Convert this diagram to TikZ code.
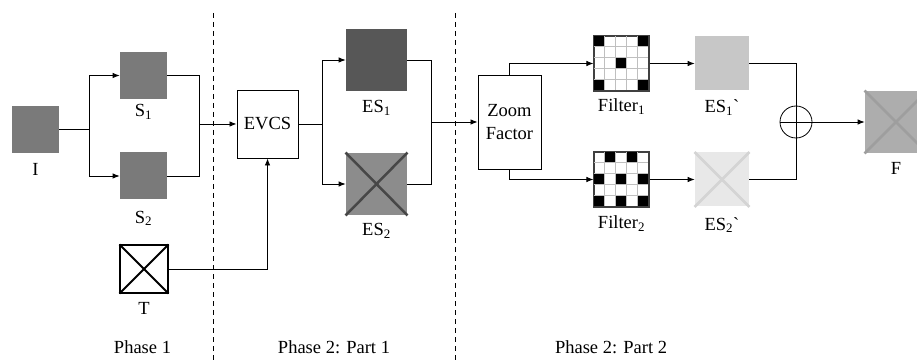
\documentclass[tikz,border=0pt]{standalone}
\usepackage{fontspec}
\setmainfont{Liberation Serif}
\usetikzlibrary{positioning, arrows.meta}

\tikzset{
  img/.style={draw=none, inner sep=0pt, minimum width=#1, minimum height=#1},
  blk/.style={draw, line width=0.9pt, inner sep=2pt, align=center},
  lbl/.style={anchor=base, inner sep=0pt},
  filt/.style={draw=black!75, line width=1.2pt, inner sep=0pt, minimum size=55pt},
}

\begin{document}
\begin{tikzpicture}[x=1pt, y=-1pt, >={Latex[length=7pt, width=5.5pt]}, line width=0.8pt,
    font=\fontsize{18.5}{23}\selectfont]
  \useasboundingbox (0,0) rectangle (917,363);

  % Phase 1
  \node[img=47pt, fill=black!52] (I) at (35.5,129.5) {};
  \node[lbl] at (35.5,176) {I};
  \node[img=47pt, fill=black!52] (S1) at (143.5,75.5) {};
  \node[lbl] at (143.5,117) {S\textsubscript{1}};
  \node[img=47pt, fill=black!52] (S2) at (143.5,176) {};
  \node[lbl] at (143.5,223) {S\textsubscript{2}};
  \node[draw, line width=1.2pt, minimum size=48pt, inner sep=0pt] (T) at (144,269) {};
  \draw[line width=2pt] (T.north west) -- (T.south east);
  \draw[line width=2pt] (T.north east) -- (T.south west);
  \node[lbl] at (144,314) {T};

  \coordinate (fork1) at (89,129.5);
  \draw (I.east) -- (fork1);
  \draw[->] (fork1) |- (S1.west);
  \draw[->] (fork1) |- (S2.west);

  % Phase 2: Part 1
  \node[blk, minimum width=61pt, minimum height=68pt] (EVCS) at (267.5,124) {EVCS};
  \coordinate (merge1) at (199,124);
  \draw (S1.east) -| (merge1);
  \draw (S2.east) -| (merge1);
  \draw[->] (merge1) -- (EVCS.west);
  \draw[->] (T.east) -| (EVCS.south);

  \node[img=61pt, minimum height=62pt, fill=black!66] (ES1) at (376.5,60) {};
  \node[lbl] at (376.5,113) {ES\textsubscript{1}};
  \node[img=61pt, minimum height=62pt, fill=black!45] (ES2) at (376.5,184) {};
  \draw[black!72, line width=2.5pt] (ES2.north west) -- (ES2.south east);
  \draw[black!72, line width=2.5pt] (ES2.north east) -- (ES2.south west);
  \node[lbl] at (376.5,236) {ES\textsubscript{2}};

  \coordinate (fork2) at (322,124);
  \draw (EVCS.east) -- (fork2);
  \draw[->] (fork2) |- (ES1.west);
  \draw[->] (fork2) |- (ES2.west);

  % Phase 2: Part 2
  \node[blk, minimum width=63pt, minimum height=94pt] (ZF) at (509.5,122) {Zoom\\Factor};
  \coordinate (merge2) at (431,122);
  \draw (ES1.east) -| (merge2);
  \draw (ES2.east) -| (merge2);
  \draw[->] (merge2) -- (ZF.west);

  \node[filt] (filt1) at (621.5,63.5) {};
  \node[filt] (filt2) at (621.5,179.5) {};
  \foreach \f/\cells in {filt1/{0/0,4/0,2/2,0/4,4/4},
                         filt2/{1/0,3/0,0/2,2/2,4/2,0/4,2/4,4/4}} {
    \begin{scope}[shift={(\f.north west)}]
      \foreach \k in {1,...,4} {
        \draw[black!25, line width=1.2pt] (\k*11,0) -- (\k*11,55);
        \draw[black!25, line width=1.2pt] (0,\k*11) -- (55,\k*11);
      }
      \foreach \c/\r in \cells
        \fill (\c*11+0.8,\r*11+0.8) rectangle ++(9.4,9.4);
    \end{scope}
    \draw[black!75, line width=1.2pt] (\f.north west) rectangle (\f.south east);
  }
  \node[lbl] at (621.5,112) {Filter\textsubscript{1}};
  \node[lbl] at (621.5,229) {Filter\textsubscript{2}};

  \draw[->] (ZF.north) |- (filt1.west);
  \draw[->] (ZF.south) |- (filt2.west);

  \node[img=54pt, fill=black!22] (ES1p) at (722,63.5) {};
  \node[lbl] at (722,113) {ES\textsubscript{1}\textasciigrave};
  \node[img=54pt, fill=black!9] (ES2p) at (722,179.5) {};
  \draw[black!17, line width=2.5pt] (ES2p.north west) -- (ES2p.south east);
  \draw[black!17, line width=2.5pt] (ES2p.north east) -- (ES2p.south west);
  \node[lbl] at (722,230) {ES\textsubscript{2}\textasciigrave};

  \draw[->] (filt1.east) -- (ES1p.west);
  \draw[->] (filt2.east) -- (ES2p.west);

  \node[draw, circle, minimum size=32pt, inner sep=0pt] (sum) at (796,122) {};
  \draw (ES1p.east) -| (sum.north);
  \draw (ES2p.east) -| (sum.south);
  \draw (sum.north) -- (sum.south);
  \draw (sum.west) -- (sum.east);

  \node[img=62pt, fill=black!32] (F) at (896,122) {};
  \draw[black!38, line width=2.5pt] (F.north west) -- (F.south east);
  \draw[black!38, line width=2.5pt] (F.north east) -- (F.south west);
  \node[lbl] at (896,175) {F};
  \draw[->] (sum.east) -- (F.west);

  % separators
  \draw[dashed, dash pattern=on 5pt off 4pt] (213,13) -- (213,363);
  \draw[dashed, dash pattern=on 5pt off 4pt] (455,13) -- (455,363);

  \node[lbl] at (142.5,353) {Phase 1};
  \node[lbl] at (334,353) {Phase 2: Part 1};
  \node[lbl] at (611,353) {Phase 2: Part 2};
\end{tikzpicture}
\end{document}
